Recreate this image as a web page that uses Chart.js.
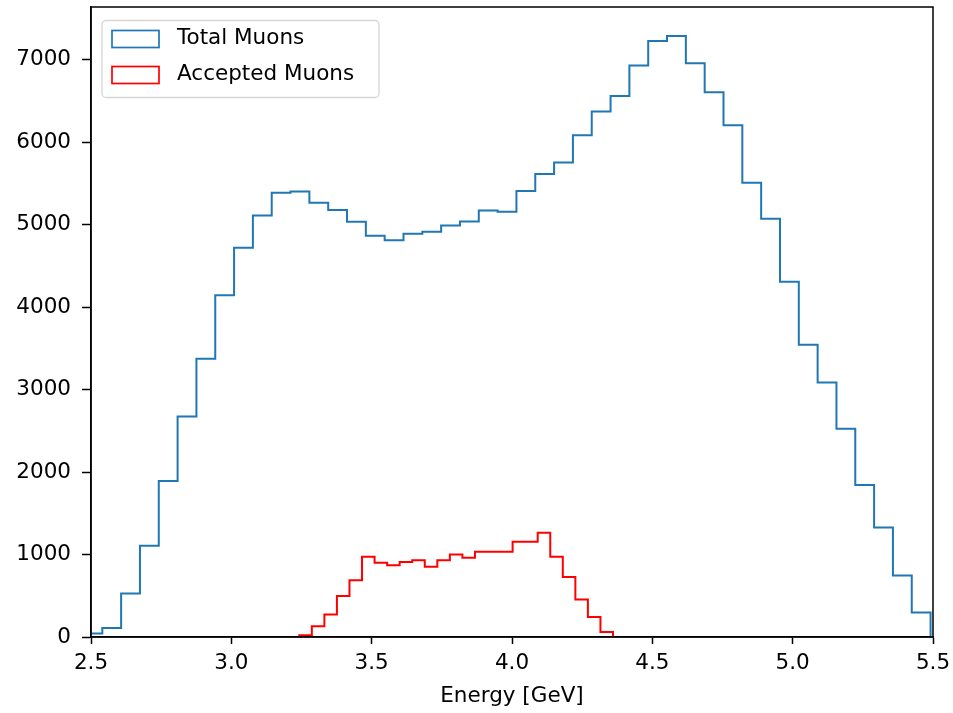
<!DOCTYPE html>
<html>
<head>
<meta charset="utf-8">
<script src="https://cdn.jsdelivr.net/npm/chart.js@4"></script>
<style>
  body { margin: 0; background: #fff; }
  #wrap { width: 953px; height: 713px; }
</style>
</head>
<body>
<div id="wrap"><canvas id="myChart" width="953" height="713"></canvas></div>
<script>
// histogram bins
var totalStart = 2.4732;
var totalWidth = 0.06707;
var totalCounts = [41, 110, 527, 1106, 1892, 2674, 3375, 4144, 4720, 5112,
  5388, 5404, 5267, 5177, 5036, 4866, 4812, 4890, 4914, 4991,
  5039, 5173, 5157, 5408, 5615, 5753, 6085, 6372, 6562, 6931,
  7227, 7288, 6959, 6607, 6206, 5510, 5072, 4307, 3545, 3087,
  2524, 1843, 1329, 746, 296];

var acceptedStart = 3.2421;
var acceptedWidth = 0.04471;
var acceptedCounts = [20, 130, 272, 498, 689, 972, 899, 871, 911, 932,
  851, 932, 1001, 960, 1033, 1033, 1033, 1155, 1155, 1264,
  972, 729, 454, 243, 61];

var seriesLabels = ["Total Muons", "Accepted Muons"];
var xTicks = [2.5, 3.0, 3.5, 4.0, 4.5, 5.0, 5.5];
var yTicks = [0, 1000, 2000, 3000, 4000, 5000, 6000, 7000];

var FONT = "'DejaVu Sans', sans-serif";
var FS = 21.5;

// outline of a step histogram, like matplotlib histtype='step'
function stepPoints(start, width, counts) {
  var pts = [{x: start, y: 0}];
  for (var i = 0; i < counts.length; i++) {
    pts.push({x: start + i * width, y: counts[i]});
  }
  var end = start + counts.length * width;
  pts.push({x: end, y: counts[counts.length - 1]});
  pts.push({x: end, y: 0});
  return pts;
}

// frame around the axes
var framePlugin = {
  id: 'frame',
  afterDatasetsDraw: function (chart) {
    var a = chart.chartArea, ctx = chart.ctx;
    ctx.save();
    ctx.strokeStyle = '#000';
    ctx.lineWidth = 1.5;
    ctx.strokeRect(a.left, a.top, a.right - a.left, a.bottom - a.top);
    ctx.restore();
  }
};

// matplotlib style legend in the upper left
var legendPlugin = {
  id: 'mplLegend',
  afterDraw: function (chart) {
    var ctx = chart.ctx, a = chart.chartArea;
    var x0 = a.left + 11, y0 = a.top + 13.5;
    var w = 277, h = 77, r = 4;
    ctx.save();
    ctx.beginPath();
    ctx.roundRect(x0, y0, w, h, r);
    ctx.fillStyle = 'rgba(255,255,255,0.8)';
    ctx.fill();
    ctx.strokeStyle = 'rgba(204,204,204,0.8)';
    ctx.lineWidth = 1.3;
    ctx.stroke();
    ctx.font = FS + "px " + FONT;
    ctx.textBaseline = 'middle';
    ctx.textAlign = 'left';
    chart.data.datasets.forEach(function (ds, i) {
      var cy = y0 + 18 + i * 36;
      ctx.strokeStyle = ds.borderColor;
      ctx.lineWidth = 1.7;
      ctx.strokeRect(x0 + 10, cy - 8, 47, 17);
      ctx.fillStyle = '#000';
      ctx.fillText(ds.label, x0 + 75, cy);
    });
    ctx.restore();
  }
};

new Chart("myChart", {
  type: "line",
  data: {
    datasets: [{
      label: seriesLabels[0],
      data: stepPoints(totalStart, totalWidth, totalCounts),
      borderColor: "#1f77b4",
      borderWidth: 2,
      pointRadius: 0,
      stepped: 'before',
      fill: false
    }, {
      label: seriesLabels[1],
      data: stepPoints(acceptedStart, acceptedWidth, acceptedCounts),
      borderColor: "#ff0000",
      borderWidth: 2,
      pointRadius: 0,
      stepped: 'before',
      fill: false
    }]
  },
  options: {
    responsive: false,
    animation: false,
    devicePixelRatio: 1,
    layout: {padding: {top: 7, right: 20, left: 0, bottom: 0}},
    plugins: {legend: {display: false}, tooltip: {enabled: false}},
    scales: {
      x: {
        type: 'linear',
        min: 2.5,
        max: 5.5,
        afterBuildTicks: function (s) { s.ticks = xTicks.map(function (v) { return {value: v}; }); },
        afterFit: function (s) { s.height = 76; s.paddingLeft = 0; s.paddingRight = 0; },
        grid: {drawOnChartArea: false, color: '#000', tickLength: 7, tickWidth: 1.5},
        border: {display: true, color: '#000', width: 1.5},
        ticks: {
          padding: 7,
          color: '#000',
          font: {family: FONT, size: FS},
          maxRotation: 0,
          callback: function (v) { return Number(v).toFixed(1); }
        },
        title: {display: true, text: 'Energy [GeV]', color: '#000',
          font: {family: FONT, size: FS}, padding: {top: 0, bottom: 4}}
      },
      y: {
        type: 'linear',
        min: 0,
        max: 7640,
        afterBuildTicks: function (s) { s.ticks = yTicks.map(function (v) { return {value: v}; }); },
        afterFit: function (s) { s.width = 91; s.paddingTop = 0; s.paddingBottom = 0; },
        grid: {drawOnChartArea: false, color: '#000', tickLength: 9, tickWidth: 1.5},
        border: {display: true, color: '#000', width: 1.5},
        ticks: {
          padding: 11,
          color: '#000',
          font: {family: FONT, size: FS},
          callback: function (v) { return String(v); }
        }
      }
    }
  },
  plugins: [framePlugin, legendPlugin]
});
</script>
</body>
</html>
